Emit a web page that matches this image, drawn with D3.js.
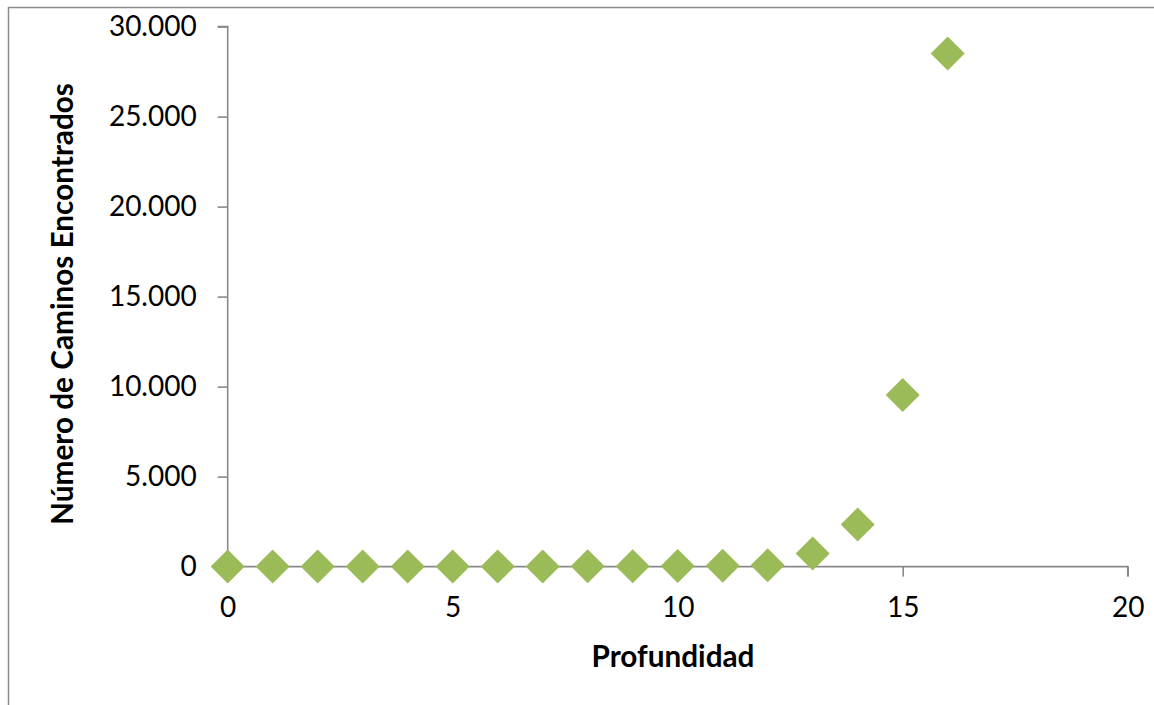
<!DOCTYPE html>
<html><head><meta charset="utf-8">
<script src="https://cdn.jsdelivr.net/npm/d3@7"></script>
<style>
html,body{margin:0;padding:0;background:#fff;}
svg{display:block;}
</style></head>
<body>
<script>
// Data
const depth = [0,1,2,3,4,5,6,7,8,9,10,11,12,13,14,15,16];
const paths = [1,1,1,2,3,4,6,10,14,20,30,45,70,730,2340,9530,28510];
const xTicks = [0,5,10,15,20];
const yTicks = [0,5000,10000,15000,20000,25000,30000];
const xTitle = "Profundidad";
const yTitle = "Número de Caminos Encontrados";

const W = 1154, H = 705;
const svg = d3.select("body").append("svg").attr("width", W).attr("height", H);

// outer chart border (cropped at right/bottom)
svg.append("rect").attr("x", 8.5).attr("y", 7.5).attr("width", 1300).attr("height", 900)
  .attr("fill", "none").attr("stroke", "#8c8c8c").attr("stroke-width", 1.5);

const x = d3.scaleLinear().domain([0,20]).range([227.7, 1127.7]);
const y = d3.scaleLinear().domain([0,30000]).range([566.6, 26.6]);

const fmt = v => d3.format(",")(v).replace(/,/g, ".");
const axisColor = "#898989";
const font = "Lato, 'Open Sans', sans-serif";

// Y axis
const gy = svg.append("g").attr("transform", `translate(${x(0)},0)`)
  .call(d3.axisLeft(y).tickValues(yTicks).tickSize(10).tickPadding(21).tickFormat(fmt));
// X axis
const gx = svg.append("g").attr("transform", `translate(0,${y(0)})`)
  .call(d3.axisBottom(x).tickValues(xTicks).tickSize(10).tickPadding(21).tickFormat(d3.format("d")));

[gx, gy].forEach(g => {
  g.select(".domain").attr("stroke", axisColor).attr("stroke-width", 1.6);
  g.selectAll(".tick line").attr("stroke", axisColor).attr("stroke-width", 1.6);
  g.selectAll(".tick text").attr("fill", "#000").style("font-family", font).style("font-size", "28px");
});
gy.select(".domain").attr("d", `M-10,${y(30000)}H0V${y(0)}`);
gx.select(".domain").attr("d", `M${x(0)},0H${x(20)}V10`);

// markers (square diamonds)
const r = 17;
svg.append("g").selectAll("path").data(depth.map((d,i)=>[d, paths[i]])).join("path")
  .attr("d", d => {
    const cx = x(d[0]), cy = y(d[1]);
    return `M${cx},${cy-r}L${cx+r},${cy}L${cx},${cy+r}L${cx-r},${cy}Z`;
  })
  .attr("fill", "#9BBB59");

// titles, fitted to measured widths
function fitText(sel, target, base) {
  const len = sel.node().getComputedTextLength();
  sel.style("font-size", (base * target / len) + "px");
}
const xt = svg.append("text").attr("x", 673).attr("y", 667).attr("text-anchor", "middle")
  .style("font-family", font).style("font-weight", "bold").style("font-size", "30px").attr("fill", "#000")
  .text(xTitle);
fitText(xt, 163, 30);

const yt = svg.append("text").attr("transform", "translate(73,304) rotate(-90)").attr("text-anchor", "middle")
  .style("font-family", font).style("font-weight", "bold").style("font-size", "30px").attr("fill", "#000")
  .text(yTitle);
fitText(yt, 442, 30);
</script>
</body></html>
